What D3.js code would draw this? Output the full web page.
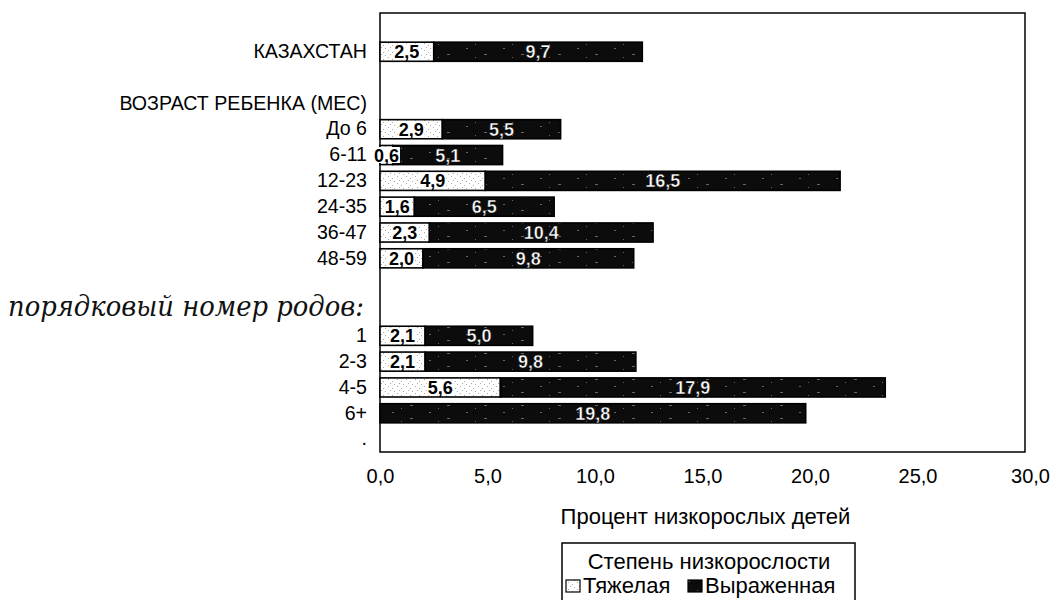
<!DOCTYPE html>
<html>
<head>
<meta charset="utf-8">
<script src="https://cdn.jsdelivr.net/npm/d3@7"></script>
<style>
  html, body { margin: 0; padding: 0; background: #fff; }
  svg { display: block; font-family: "Liberation Sans", Arial, sans-serif; }
</style>
</head>
<body>
<svg id="chart" width="1053" height="600"></svg>
<script>
// Row labels, top to bottom (empty strings are spacer rows)
const categories = ["", "КАЗАХСТАН", "", "ВОЗРАСТ РЕБЕНКА (МЕС)", "До 6", "6-11", "12-23",
  "24-35", "36-47", "48-59", "", "", "1", "2-3", "4-5", "6+", "."];
// Severe stunting, % of children
const severe = [null, 2.5, null, null, 2.9, 0.6, 4.9, 1.6, 2.3, 2.0, null, null, 2.1, 2.1, 5.6, null, null];
// Moderate stunting, % of children
const moderate = [null, 9.7, null, null, 5.5, 5.1, 16.5, 6.5, 10.4, 9.8, null, null, 5.0, 9.8, 17.9, 19.8, null];
const xTicks = [0, 5, 10, 15, 20, 25, 30];
const seriesNames = ["Тяжелая", "Выраженная"];
const legendTitle = "Степень низкорослости";
const xTitle = "Процент низкорослых детей";
const noteText = "порядковый номер родов:";
const noteRow = 11;

const svg = d3.select("#chart");
const plotL = 380, plotR = 1025, plotT = 13, plotB = 452;

const x = d3.scaleLinear().domain([0, 30]).range([plotL, plotR]);
const y = d3.scaleBand()
  .domain(d3.range(categories.length))
  .range([plotT, plotB])
  .paddingInner(0.26)
  .paddingOuter(0.13);

const fmt = v => d3.format(".1f")(v).replace(".", ",");

// Speckled fills for the two series
const defs = svg.append("defs");
const light = defs.append("pattern").attr("id", "light")
  .attr("patternUnits", "userSpaceOnUse").attr("width", 9).attr("height", 7);
light.append("rect").attr("width", 9).attr("height", 7).attr("fill", "#fff");
[[1, 1], [5, 3], [3, 5], [7, 6]].forEach(([px, py]) =>
  light.append("rect").attr("x", px).attr("y", py).attr("width", 1).attr("height", 1).attr("fill", "#aaa"));
const dark = defs.append("pattern").attr("id", "dark")
  .attr("patternUnits", "userSpaceOnUse").attr("width", 37).attr("height", 13);
dark.append("rect").attr("width", 37).attr("height", 13).attr("fill", "#0c0c0c");
[[3, 2, 3], [22, 9, 2], [31, 5, 1]].forEach(([px, py, w]) =>
  dark.append("rect").attr("x", px).attr("y", py).attr("width", w).attr("height", 1).attr("fill", "#666"));

// Plot frame
svg.append("rect")
  .attr("x", plotL).attr("y", plotT)
  .attr("width", plotR - plotL).attr("height", plotB - plotT)
  .attr("fill", "none").attr("stroke", "#000").attr("stroke-width", 1.5);

const rows = categories.map((c, i) => ({ i, c, s: severe[i], m: moderate[i] }));

const bars = svg.append("g");
rows.forEach(r => {
  const y0 = y(r.i), h = y.bandwidth();
  const s = r.s || 0;
  if (r.s != null) {
    bars.append("rect")
      .attr("x", x(0)).attr("y", y0)
      .attr("width", x(s) - x(0)).attr("height", h)
      .attr("fill", "url(#light)").attr("stroke", "#000").attr("stroke-width", 1.6);
  }
  if (r.m != null) {
    bars.append("rect")
      .attr("x", x(s)).attr("y", y0)
      .attr("width", x(s + r.m) - x(s)).attr("height", h)
      .attr("fill", "url(#dark)").attr("stroke", "#000").attr("stroke-width", 1.6);
  }
});

// Value labels inside each segment
const labels = svg.append("g")
  .attr("font-size", 18).attr("font-weight", "bold").attr("text-anchor", "middle");
rows.forEach(r => {
  const cy = y(r.i) + y.bandwidth() / 2;
  const s = r.s || 0;
  if (r.s != null) {
    const g = labels.append("g");
    const bg = g.append("rect").attr("fill", "#fff");
    const t = g.append("text").attr("x", x(s / 2)).attr("y", cy).attr("dy", "0.36em")
      .attr("fill", "#000").text(fmt(r.s));
    const bb = t.node().getBBox();
    bg.attr("x", bb.x - 1).attr("y", cy - 8).attr("width", bb.width + 2).attr("height", 16);
  }
  if (r.m != null) {
    labels.append("text").attr("x", x(s + r.m / 2)).attr("y", cy).attr("dy", "0.36em")
      .attr("fill", "#fff").attr("stroke", "#000").attr("stroke-width", 0.4)
      .text(fmt(r.m));
  }
});

// Category axis
const yAxis = svg.append("g")
  .attr("transform", `translate(${plotL},0)`)
  .call(d3.axisLeft(y).tickSize(0).tickPadding(13).tickFormat(i => categories[i]));
yAxis.select(".domain").remove();
yAxis.selectAll("text").attr("font-size", 19.6).attr("fill", "#000")
  .attr("font-family", "'Liberation Sans', Arial, sans-serif");

// Value axis
const xAxis = svg.append("g")
  .attr("transform", `translate(0,${plotB})`)
  .call(d3.axisBottom(x).tickValues(xTicks).tickSize(0).tickPadding(17).tickFormat(fmt));
xAxis.select(".domain").remove();
xAxis.selectAll("text").attr("font-size", 20).attr("fill", "#000")
  .attr("font-family", "'Liberation Sans', Arial, sans-serif");
xAxis.selectAll(".tick").filter(d => d === 30).select("text").attr("dx", 5);

// Axis title
svg.append("text")
  .attr("x", (plotL + plotR) / 2 + 3).attr("y", 524)
  .attr("text-anchor", "middle").attr("font-size", 22).attr("fill", "#000")
  .text(xTitle);

// Handwritten note in the label column
svg.append("text")
  .attr("x", 8).attr("y", y(noteRow) + y.bandwidth() / 2 + 6)
  .attr("font-family", "'DejaVu Serif', 'Liberation Serif', serif")
  .attr("font-style", "italic").attr("font-size", 27).attr("fill", "#111")
  .attr("textLength", 356).attr("lengthAdjust", "spacingAndGlyphs")
  .text(noteText);

// Legend
const lg = svg.append("g");
lg.append("rect")
  .attr("x", 562).attr("y", 543).attr("width", 293).attr("height", 70)
  .attr("fill", "#fff").attr("stroke", "#000").attr("stroke-width", 1.5);
lg.append("text")
  .attr("x", 709).attr("y", 569).attr("text-anchor", "middle")
  .attr("font-size", 22).attr("fill", "#000").text(legendTitle);
const items = [
  { name: seriesNames[0], fill: "url(#light)", sx: 566, tx: 583 },
  { name: seriesNames[1], fill: "url(#dark)", sx: 688, tx: 705 }
];
items.forEach(it => {
  lg.append("rect")
    .attr("x", it.sx).attr("y", 580).attr("width", 14).attr("height", 12)
    .attr("fill", it.fill).attr("stroke", "#000").attr("stroke-width", 1.2);
  lg.append("text")
    .attr("x", it.tx).attr("y", 593)
    .attr("font-size", 22).attr("fill", "#000").text(it.name);
});
</script>
</body>
</html>
